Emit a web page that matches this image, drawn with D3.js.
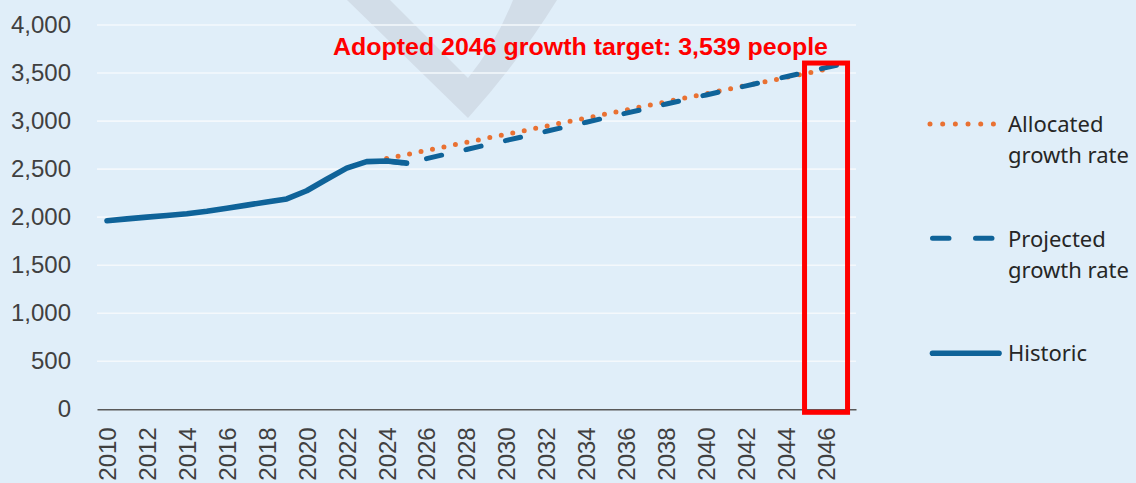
<!DOCTYPE html>
<html>
<head>
<meta charset="utf-8">
<script src="https://cdn.jsdelivr.net/npm/d3@7"></script>
<style>
  html, body { margin: 0; padding: 0; background: #e0eef9; }
  svg { display: block; }
</style>
</head>
<body>
<div id="chart"></div>
<script>

const years = [2010, 2011, 2012, 2013, 2014, 2015, 2016, 2017, 2018, 2019,
  2020, 2021, 2022, 2023, 2024, 2025, 2026, 2027, 2028, 2029,
  2030, 2031, 2032, 2033, 2034, 2035, 2036, 2037, 2038, 2039,
  2040, 2041, 2042, 2043, 2044, 2045, 2046, 2047];
const yearLabels = [2010, 2012, 2014, 2016, 2018, 2020, 2022, 2024, 2026, 2028,
  2030, 2032, 2034, 2036, 2038, 2040, 2042, 2044, 2046];
const yTicks = [0, 500, 1000, 1500, 2000, 2500, 3000, 3500, 4000];

// 2010 - 2025
const historicYears = [2010, 2011, 2012, 2013, 2014, 2015, 2016, 2017,
  2018, 2019, 2020, 2021, 2022, 2023, 2024, 2025];
const historic = [1963, 1982, 2000, 2018, 2036, 2062, 2093, 2125,
  2158, 2190, 2275, 2395, 2510, 2578, 2585, 2562];

// 2024 - 2047
const projectedYears = [2024, 2025, 2026, 2027, 2028, 2029, 2030, 2031, 2032, 2033,
  2034, 2035, 2036, 2037, 2038, 2039, 2040, 2041, 2042, 2043, 2044, 2045, 2046, 2047];
const projected = [2585, 2562, 2609, 2657, 2704, 2752, 2799, 2846, 2894, 2941,
  2988, 3036, 3083, 3130, 3178, 3225, 3272, 3320, 3367, 3415, 3462, 3509, 3557, 3604];

// 2024 - 2046
const allocatedYears = [2024, 2025, 2026, 2027, 2028, 2029, 2030, 2031, 2032, 2033,
  2034, 2035, 2036, 2037, 2038, 2039, 2040, 2041, 2042, 2043, 2044, 2045, 2046];
const allocated = [2610, 2652, 2694, 2737, 2779, 2821, 2863, 2905, 2948, 2990,
  3032, 3074, 3116, 3159, 3201, 3243, 3285, 3327, 3370, 3412, 3454, 3496, 3539];

const targetYear = 2046;
const targetText = 'Adopted 2046 growth target: 3,539 people';

const width = 1136, height = 483;
const plot = { left: 97, right: 856, top: 25, bottom: 409.3 };
const blue = '#0f6399', orange = '#e97132', red = '#ff0000';
const axisFont = '"Liberation Sans", Arial, sans-serif';
const legendFont = '"Noto Sans", sans-serif';

const svg = d3.select('#chart')
  .append('svg')
  .attr('width', width).attr('height', height);

svg.append('rect')
  .attr('width', width).attr('height', height)
  .attr('fill', '#e0eef9');

/* Watermark */
svg.append('path')
  .attr('d', 'M347,0 L468,118 Q520,60 557,0 L513,0 Q495,45 468,78 L390,0 Z')
  .attr('fill', '#d2dde8');

const xScale = d3.scalePoint()
  .domain(years)
  .range([plot.left, plot.right])
  .padding(0.5);

const yScale = d3.scaleLinear()
  .domain([0, 4000])
  .range([plot.bottom, plot.top]);

/* Grid */
svg.selectAll('.grid')
  .data(yTicks.filter(d => d > 0)).join('line')
  .attr('class', 'grid')
  .attr('x1', plot.left).attr('x2', plot.right)
  .attr('y1', d => yScale(d)).attr('y2', d => yScale(d))
  .attr('stroke', '#f4f8fc').attr('stroke-width', 1.6);

/* Left axis */
svg.append('g')
  .attr('transform', `translate(${plot.left},0)`)
  .call(d3.axisLeft(yScale).tickValues(yTicks).tickSize(0).tickPadding(26)
    .tickFormat(d3.format(',')))
  .call(ax => ax.select('.domain').remove())
  .selectAll('text')
    .style('font-family', axisFont).style('font-size', '24px').style('fill', '#404040');

/* Bottom axis */
svg.append('g')
  .attr('transform', `translate(0,${plot.bottom})`)
  .call(d3.axisBottom(xScale).tickValues(yearLabels).tickSize(0).tickSizeOuter(0))
  .call(ax => ax.select('.domain').attr('stroke', '#595959').attr('stroke-width', 1.6))
  .selectAll('text')
    .attr('transform', 'rotate(-90)')
    .attr('text-anchor', 'end')
    .attr('x', -18).attr('y', 0).attr('dy', '0.35em')
    .style('font-family', axisFont).style('font-size', '24px').style('fill', '#404040');

const line = d3.line()
  .x(d => xScale(d[0]))
  .y(d => yScale(d[1]));

/* Allocated growth rate (dotted) */
svg.append('path')
  .datum(d3.zip(allocatedYears, allocated))
  .attr('d', line)
  .attr('fill', 'none').attr('stroke', orange)
  .attr('stroke-width', 5).attr('stroke-linecap', 'round')
  .attr('stroke-dasharray', '0,11.7');

/* Projected growth rate (dashed) */
svg.append('path')
  .datum(d3.zip(projectedYears, projected))
  .attr('d', line)
  .attr('fill', 'none').attr('stroke', blue)
  .attr('stroke-width', 5).attr('stroke-linecap', 'round')
  .attr('stroke-dasharray', '15.5,25');

/* Historic */
svg.append('path')
  .datum(d3.zip(historicYears, historic))
  .attr('d', line)
  .attr('fill', 'none').attr('stroke', blue)
  .attr('stroke-width', 5.6).attr('stroke-linecap', 'round')
  .attr('stroke-linejoin', 'round');

/* Target box + label */
const tx = xScale(targetYear);
svg.append('rect')
  .attr('x', tx - 21.5).attr('width', 43)
  .attr('y', yScale(projected[projected.length - 1]))
  .attr('height', yScale(0) + 3 - yScale(projected[projected.length - 1]))
  .attr('fill', 'none').attr('stroke', red).attr('stroke-width', 5);

svg.append('text')
  .attr('x', 333).attr('y', 55)
  .attr('font-family', '"Liberation Sans Narrow", "Liberation Sans", Arial, sans-serif')
  .attr('font-weight', 700).attr('font-size', '23.5px')
  .attr('fill', red)
  .attr('textLength', 495).attr('lengthAdjust', 'spacingAndGlyphs')
  .text(targetText);

/* Legend */
const leg = svg.append('g');
const legItems = [
  { y: 124, lines: ['Allocated', 'growth rate'], textY: 131.5, kind: 'dot' },
  { y: 238.3, lines: ['Projected', 'growth rate'], textY: 246.5, kind: 'dash' },
  { y: 353.3, lines: ['Historic'], textY: 361, kind: 'solid' }
];
legItems.forEach(it => {
  const l = leg.append('line')
    .attr('y1', it.y).attr('y2', it.y)
    .attr('stroke-linecap', 'round').attr('fill', 'none');
  if (it.kind === 'dot') {
    l.attr('x1', 930).attr('x2', 993.4).attr('stroke', orange)
      .attr('stroke-width', 5).attr('stroke-dasharray', '0,12.68');
  } else if (it.kind === 'dash') {
    l.attr('x1', 932.5).attr('x2', 992).attr('stroke', blue)
      .attr('stroke-width', 5).attr('stroke-dasharray', '16.5,26.5');
  } else {
    l.attr('x1', 932.5).attr('x2', 999).attr('stroke', blue).attr('stroke-width', 5.6);
  }
  const t = leg.append('text')
    .attr('x', 1008).attr('y', it.textY)
    .attr('font-family', legendFont).attr('font-size', '22px').attr('fill', '#262626');
  it.lines.forEach((s, i) => {
    t.append('tspan').attr('x', 1008).attr('dy', i === 0 ? 0 : 31.7).text(s);
  });
});

</script>
</body>
</html>
